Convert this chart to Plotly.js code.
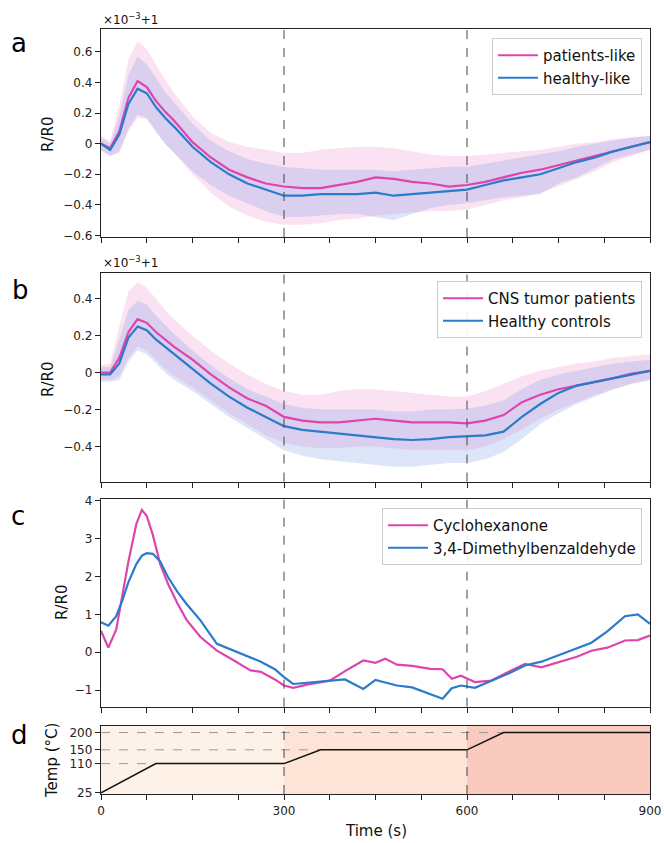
<!DOCTYPE html>
<html><head><meta charset="utf-8">
<script src="https://cdn.plot.ly/plotly-3.0.1.min.js"></script>
<style>html,body{margin:0;padding:0;background:#fff}#chart{width:664px;height:843px}</style>
</head><body><div id="chart"></div>
<script>
// ---------- data ----------
const timeAB = [0,15,30,45,60,75,90,105,120,150,180,210,240,270,300,330,360,390,420,450,480,510,540,570,600,630,660,690,720,750,780,810,840,870,900];

// panel a
const aPatientsMean  = [0.0,-0.03,0.08,0.30,0.41,0.37,0.28,0.21,0.15,0.01,-0.09,-0.17,-0.22,-0.26,-0.28,-0.29,-0.29,-0.27,-0.25,-0.22,-0.23,-0.25,-0.26,-0.28,-0.27,-0.25,-0.22,-0.19,-0.17,-0.14,-0.11,-0.08,-0.05,-0.02,0.01];
const aPatientsUpper = [0.05,0.02,0.25,0.55,0.67,0.62,0.52,0.42,0.33,0.18,0.07,0.01,-0.02,-0.04,-0.06,-0.06,-0.04,-0.03,-0.02,-0.02,-0.03,-0.05,-0.07,-0.08,-0.08,-0.07,-0.06,-0.05,-0.04,-0.02,0.0,0.01,0.03,0.04,0.05];
const aPatientsLower = [-0.05,-0.08,-0.06,0.08,0.17,0.16,0.08,0.0,-0.06,-0.20,-0.32,-0.41,-0.47,-0.51,-0.53,-0.53,-0.52,-0.50,-0.49,-0.47,-0.46,-0.45,-0.44,-0.44,-0.43,-0.40,-0.37,-0.35,-0.32,-0.28,-0.23,-0.18,-0.12,-0.08,-0.04];
const aHealthyMean   = [0.0,-0.04,0.06,0.26,0.36,0.33,0.24,0.17,0.11,-0.02,-0.12,-0.20,-0.26,-0.30,-0.34,-0.34,-0.33,-0.33,-0.33,-0.32,-0.34,-0.33,-0.32,-0.31,-0.30,-0.27,-0.24,-0.22,-0.20,-0.16,-0.12,-0.09,-0.05,-0.02,0.01];
const aHealthyUpper  = [0.04,0.0,0.18,0.45,0.57,0.52,0.43,0.34,0.27,0.13,0.02,-0.05,-0.10,-0.13,-0.15,-0.16,-0.17,-0.17,-0.17,-0.17,-0.18,-0.17,-0.16,-0.15,-0.15,-0.13,-0.11,-0.09,-0.07,-0.05,-0.02,0.0,0.02,0.04,0.05];
const aHealthyLower  = [-0.04,-0.08,-0.05,0.10,0.19,0.17,0.08,0.0,-0.06,-0.18,-0.27,-0.34,-0.39,-0.44,-0.48,-0.48,-0.47,-0.46,-0.46,-0.48,-0.50,-0.46,-0.42,-0.40,-0.39,-0.37,-0.35,-0.34,-0.33,-0.26,-0.22,-0.16,-0.10,-0.07,-0.04];

// panel b
const bPatientsMean  = [0.0,0.0,0.08,0.22,0.29,0.27,0.22,0.18,0.14,0.07,-0.01,-0.08,-0.14,-0.18,-0.24,-0.26,-0.27,-0.27,-0.26,-0.25,-0.26,-0.27,-0.27,-0.27,-0.275,-0.26,-0.23,-0.16,-0.12,-0.09,-0.07,-0.05,-0.03,-0.005,0.01];
const bPatientsUpper = [0.04,0.05,0.25,0.44,0.49,0.46,0.40,0.34,0.29,0.20,0.12,0.05,-0.01,-0.06,-0.10,-0.12,-0.12,-0.10,-0.09,-0.09,-0.10,-0.11,-0.12,-0.13,-0.13,-0.10,-0.06,-0.02,0.01,0.03,0.05,0.06,0.08,0.09,0.10];
const bPatientsLower = [-0.04,-0.04,-0.02,0.08,0.14,0.12,0.07,0.02,-0.02,-0.08,-0.15,-0.22,-0.28,-0.34,-0.38,-0.40,-0.41,-0.41,-0.40,-0.40,-0.41,-0.42,-0.42,-0.42,-0.42,-0.40,-0.36,-0.31,-0.25,-0.20,-0.16,-0.12,-0.09,-0.06,-0.04];
const bHealthyMean   = [-0.01,-0.01,0.05,0.19,0.25,0.23,0.18,0.14,0.10,0.02,-0.06,-0.13,-0.19,-0.24,-0.29,-0.31,-0.32,-0.33,-0.34,-0.35,-0.36,-0.365,-0.36,-0.35,-0.345,-0.34,-0.32,-0.24,-0.17,-0.11,-0.07,-0.05,-0.03,-0.01,0.01];
const bHealthyUpper  = [0.03,0.03,0.18,0.34,0.39,0.37,0.31,0.26,0.21,0.12,0.04,-0.03,-0.09,-0.13,-0.17,-0.19,-0.20,-0.20,-0.20,-0.20,-0.21,-0.21,-0.20,-0.20,-0.195,-0.18,-0.15,-0.09,-0.04,-0.01,0.01,0.03,0.05,0.06,0.07];
const bHealthyLower  = [-0.05,-0.05,-0.04,0.06,0.12,0.10,0.05,0.0,-0.04,-0.10,-0.17,-0.24,-0.30,-0.36,-0.42,-0.45,-0.47,-0.48,-0.49,-0.50,-0.51,-0.51,-0.50,-0.49,-0.49,-0.47,-0.43,-0.36,-0.28,-0.22,-0.17,-0.13,-0.09,-0.06,-0.04];

// panel c
const timeC = [0,12,25,35,45,58,67,75,85,97,110,125,140,163,190,218,245,262,285,300,315,340,375,400,430,450,466,485,510,540,560,575,590,613,640,670,695,722,750,780,804,830,859,880,900];
const cCyclohexanone = [0.57,0.12,0.6,1.45,2.4,3.39,3.76,3.6,3.1,2.33,1.8,1.3,0.86,0.40,0.04,-0.22,-0.48,-0.52,-0.72,-0.88,-0.94,-0.85,-0.75,-0.5,-0.22,-0.28,-0.17,-0.33,-0.36,-0.44,-0.45,-0.70,-0.62,-0.79,-0.75,-0.5,-0.31,-0.4,-0.26,-0.12,0.04,0.12,0.31,0.32,0.44];
const cDimethylbenz  = [0.79,0.70,0.95,1.37,1.85,2.33,2.55,2.62,2.6,2.4,1.98,1.6,1.28,0.84,0.22,0.04,-0.13,-0.25,-0.45,-0.66,-0.84,-0.8,-0.75,-0.72,-0.97,-0.73,-0.8,-0.88,-0.93,-1.1,-1.23,-0.95,-0.88,-0.94,-0.75,-0.55,-0.35,-0.25,-0.08,0.1,0.25,0.55,0.95,1.0,0.75];

// panel d
const tempTime  = [0,90,300,360,600,660,900];
const tempValue = [25,110,110,150,150,200,200];
const tempTicks = [25,110,150,200];
const stageEdges = [0,300,600,900];
const stageMarks = [300,600];
const timeTickLabels = ['0','300','600','900'];

const legendA = ['patients-like','healthy-like'];
const legendB = ['CNS tumor patients','Healthy controls'];
const legendC = ['Cyclohexanone','3,4-Dimethylbenzaldehyde'];

// ---------- styling ----------
const PINK = '#df44ad', BLUE = '#2b7bcb';
const PINK_FILL = 'rgba(238,140,205,0.25)', BLUE_FILL = 'rgba(100,140,225,0.22)';
const FONT = 'DejaVu Sans, sans-serif';
const AX = '#222';

function band(x, up, lo, fill, xa, ya) {
  return [
    {x: x, y: up, xaxis: xa, yaxis: ya, mode: 'lines', line: {width: 0}, showlegend: false, hoverinfo: 'skip'},
    {x: x, y: lo, xaxis: xa, yaxis: ya, mode: 'lines', line: {width: 0}, fill: 'tonexty', fillcolor: fill, showlegend: false, hoverinfo: 'skip'}
  ];
}
function line(x, y, name, color, xa, ya, leg) {
  return {x: x, y: y, xaxis: xa, yaxis: ya, mode: 'lines', name: name, line: {color: color, width: 2.2}, legend: leg};
}

const traces = [
  ...band(timeAB, aPatientsUpper, aPatientsLower, PINK_FILL, 'x', 'y'),
  ...band(timeAB, aHealthyUpper, aHealthyLower, BLUE_FILL, 'x', 'y'),
  line(timeAB, aPatientsMean, legendA[0], PINK, 'x', 'y', 'legend'),
  line(timeAB, aHealthyMean, legendA[1], BLUE, 'x', 'y', 'legend'),
  ...band(timeAB, bPatientsUpper, bPatientsLower, PINK_FILL, 'x2', 'y2'),
  ...band(timeAB, bHealthyUpper, bHealthyLower, BLUE_FILL, 'x2', 'y2'),
  line(timeAB, bPatientsMean, legendB[0], PINK, 'x2', 'y2', 'legend2'),
  line(timeAB, bHealthyMean, legendB[1], BLUE, 'x2', 'y2', 'legend2'),
  line(timeC, cCyclohexanone, legendC[0], PINK, 'x3', 'y3', 'legend3'),
  line(timeC, cDimethylbenz, legendC[1], BLUE, 'x3', 'y3', 'legend3'),
  {x: tempTime, y: tempValue, xaxis: 'x4', yaxis: 'y4', mode: 'lines', line: {color: '#111', width: 1.5}, showlegend: false}
];

const H = 843, W = 664;
const px = v => v / W, py = v => 1 - v / H;
const xdom = [px(101), px(650)];

// x ticks every 75 s, labelled every 300 s
const xTickVals = [], xTickText = [];
for (let t = 0; t <= 900; t += 75) { xTickVals.push(t); xTickText.push(timeTickLabels.includes(String(t)) ? String(t) : ' '); }

function xax(anchor, labels) {
  return {
    domain: xdom, anchor: anchor, range: [0, 900], tickmode: 'array', tickvals: xTickVals,
    ticktext: xTickText,
    ticks: 'outside', ticklen: 5, tickwidth: 1, tickcolor: AX,
    showticklabels: labels, showline: true, mirror: true, linecolor: AX, linewidth: 1.2,
    showgrid: false, zeroline: false, tickfont: {size: 12, color: AX, family: FONT}
  };
}
function yax(dom, range, dtick, anchor) {
  return {
    domain: dom, anchor: anchor, range: range, tickmode: 'linear', tick0: 0, dtick: dtick,
    ticks: 'outside', ticklen: 5, tickwidth: 1, tickcolor: AX,
    showline: true, mirror: true, linecolor: AX, linewidth: 1.2,
    showgrid: false, zeroline: false, tickfont: {size: 12, color: AX, family: FONT}
  };
}
// overlay axis that only draws the short minor ticks
function yminor(dom, range, dtick, overlay, anchor) {
  return {
    domain: dom, anchor: anchor, overlaying: overlay, side: 'left', range: range, tickmode: 'linear', tick0: 0, dtick: dtick,
    ticks: 'outside', ticklen: 2.5, tickwidth: 1, tickcolor: AX, showticklabels: false,
    showline: false, showgrid: false, zeroline: false
  };
}

const shapes = [];
const stageColors = ['#fdf1e8', '#fde4d7', '#f9cbbe'];
for (let i = 0; i < stageEdges.length - 1; i++) {
  shapes.push({type: 'rect', xref: 'x4', yref: 'y4 domain', x0: stageEdges[i], x1: stageEdges[i+1], y0: 0, y1: 1,
    fillcolor: stageColors[i], line: {width: 0}, layer: 'below'});
}
tempTicks.slice(1).forEach(level => {
  const idx = tempValue.findIndex(v => v >= level);
  shapes.push({type: 'line', xref: 'x4', yref: 'y4', x0: 0, x1: tempTime[idx], y0: level, y1: level,
    line: {color: '#999', width: 1, dash: 'dash'}, layer: 'below'});
});
['', '2', '3', '4'].forEach(s => {
  stageMarks.forEach(t => {
    shapes.push({type: 'line', xref: 'x' + s, yref: 'y' + s + ' domain', x0: t, x1: t, y0: 0, y1: 1,
      line: {color: '#444', width: 1, dash: 'dash'}});
  });
});

const ann = [];
const letter = (t, x, y) => ann.push({text: t, xref: 'paper', yref: 'paper', x: px(x), y: py(y), showarrow: false,
  font: {size: 26, family: FONT, color: '#000'}, xanchor: 'center', yanchor: 'middle'});
letter('a', 19, 43); letter('b', 20, 290); letter('c', 18, 516); letter('d', 19, 735);
const ytitle = (t, x, y) => ann.push({text: t, xref: 'paper', yref: 'paper', x: px(x), y: py(y), showarrow: false,
  textangle: -90, font: {size: 15, family: FONT, color: '#111'}, xanchor: 'center', yanchor: 'middle'});
ytitle('R/R0', 48, 135); ytitle('R/R0', 48, 380); ytitle('R/R0', 62, 603); ytitle('Temp (°C)', 52, 761);
const offs = (y) => ann.push({text: '×10<sup>−3</sup>+1', xref: 'paper', yref: 'paper', x: px(101), y: py(y), showarrow: false,
  font: {size: 12, family: FONT, color: '#111'}, xanchor: 'left', yanchor: 'middle'});
offs(19); offs(262);
ann.push({text: 'Time (s)', xref: 'paper', yref: 'paper', x: px(376), y: py(831), showarrow: false,
  font: {size: 15, family: FONT, color: '#111'}, xanchor: 'center', yanchor: 'middle'});

const legBase = (y) => ({x: px(642), y: py(y), xanchor: 'right', yanchor: 'top', bgcolor: 'rgba(255,255,255,0.9)',
  bordercolor: '#ccc', borderwidth: 1, font: {size: 15, family: FONT, color: '#111'}, traceorder: 'normal', itemwidth: 40});

const domA = [py(237), py(29)], domB = [py(481.5), py(273)], domC = [py(706.7), py(499.3)], domD = [py(794), py(726)];
const rA = [-0.61, 0.75], rB = [-0.59, 0.54], rC = [-1.44, 4.04];

const layout = {
  width: W, height: H, margin: {l: 0, r: 0, t: 0, b: 0},
  paper_bgcolor: '#fff', plot_bgcolor: 'rgba(0,0,0,0)', font: {family: FONT},
  xaxis: xax('y', false), xaxis2: xax('y2', false), xaxis3: xax('y3', false), xaxis4: xax('y4', true),
  yaxis: yax(domA, rA, 0.2, 'x'),
  yaxis2: yax(domB, rB, 0.2, 'x2'),
  yaxis3: yax(domC, rC, 1, 'x3'),
  yaxis4: Object.assign(yax(domD, [22, 219], 50, 'x4'), {tickmode: 'array', tickvals: tempTicks, ticktext: tempTicks.map(String)}),
  yaxis5: yminor(domA, rA, 0.05, 'y', 'x'),
  yaxis6: yminor(domB, rB, 0.05, 'y2', 'x2'),
  yaxis7: yminor(domC, rC, 0.2, 'y3', 'x3'),
  legend: legBase(38), legend2: legBase(281), legend3: legBase(508),
  shapes: shapes, annotations: ann
};

Plotly.newPlot('chart', traces, layout, {displayModeBar: false, staticPlot: true});
</script>
</body></html>
